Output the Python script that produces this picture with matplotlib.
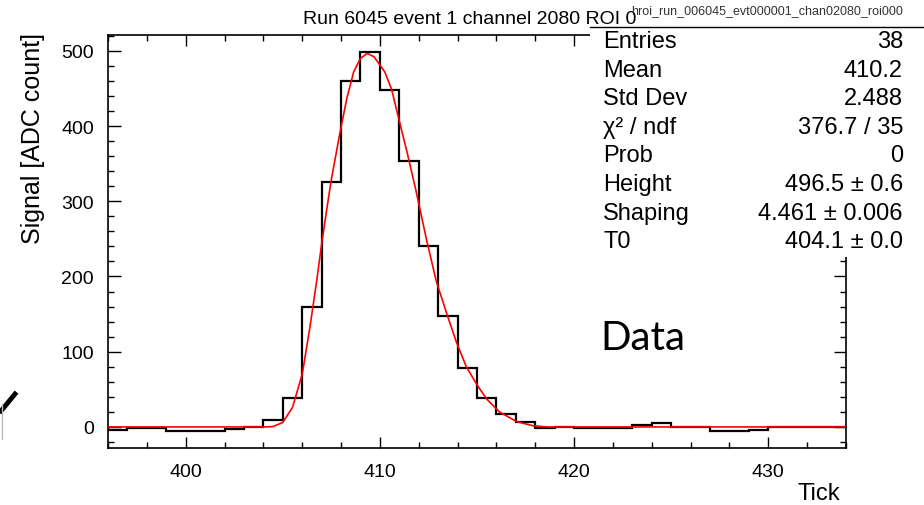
import numpy as np
import matplotlib
matplotlib.use("Agg")
import matplotlib.pyplot as plt
from matplotlib.lines import Line2D
from matplotlib.patches import Rectangle
from matplotlib.ticker import MultipleLocator

plt.rcParams['font.family'] = ['Liberation Sans', 'DejaVu Sans']

# histogram: one value per tick bin, bins 396..433
bin_start = 396
signal = [-4, -1, -1, -5, -5, -5, -3, 0, 9, 38,
          159, 326, 460, 498, 448, 353, 240, 147, 78, 39,
          17, 7, -2, 0, -2, -2, -2, 2, 5, 0,
          0, -6, -6, -4, 0, 0, 0, 0]

# fitted response curve
fit_tick = [396.0, 404.1, 404.5, 405.0, 405.5, 406.0, 406.4, 406.75, 407.0, 407.25,
            407.5, 407.95, 408.3, 408.65, 409.0, 409.35, 409.7, 410.25, 410.6, 410.95,
            411.4, 411.85, 412.4, 412.9, 413.45, 413.95, 414.45, 415.0, 415.5, 416.15,
            417.05, 417.9, 418.6, 434.0]
fit_adc = [0, 0, 0.5, 6, 26, 70, 133, 195, 243, 287,
           329, 392, 437, 472, 490, 496.5, 492, 472, 449, 412,
           365, 315, 249, 194, 150, 112, 80, 56, 37, 20,
           7, 1.5, 0, 0]

stat_names = ["Entries", "Mean", "Std Dev", "χ² / ndf", "Prob", "Height", "Shaping", "T0"]
stat_values = ["38", "410.2", "2.488", "376.7 / 35", "0",
               "496.5 ± 0.6", "4.461 ± 0.006", "404.1 ± 0.0"]

W, H = 924, 506


def fx(x):
    return x / W


def fy(y):
    return 1 - y / H


fig = plt.figure(figsize=(W / 100, H / 100), dpi=100)
ax = fig.add_axes([fx(108), fy(449), (846 - 108) / W, (449 - 36) / H])

edges = np.arange(bin_start, bin_start + len(signal) + 1)
ax.stairs(signal, edges, color='black', lw=1.6, zorder=2)
ax.plot(fit_tick, fit_adc, color='red', lw=1.2, zorder=3)

ax.set_xlim(396, 434)
ax.set_ylim(-28, 521)
ax.xaxis.set_major_locator(MultipleLocator(10))
ax.xaxis.set_minor_locator(MultipleLocator(2))
ax.yaxis.set_major_locator(MultipleLocator(100))
ax.yaxis.set_minor_locator(MultipleLocator(20))
ax.tick_params(which='both', direction='in', top=True, right=True, width=1.0, labelsize=14)
ax.tick_params(axis='x', which='major', length=8, pad=11)
ax.tick_params(axis='x', which='minor', length=4)
ax.tick_params(axis='y', which='major', length=9, pad=10)
ax.tick_params(axis='y', which='minor', length=4.5)
for s in ax.spines.values():
    s.set_linewidth(1.2)

ax.set_ylabel("Signal [ADC count]", fontsize=18, loc='top')
ax.yaxis.set_label_coords(-0.0854, 1.007)
ax.set_xlabel("Tick", fontsize=17, loc='right')
ax.xaxis.set_label_coords(0.992, -0.082)

fig.text(fx(470), fy(19), "Run 6045 event 1 channel 2080 ROI 0", fontsize=14,
         ha='center', va='center')

# stats box
fig.add_artist(Rectangle((fx(590), fy(258)), fx(924 - 590), (258 - 28) / H,
                         facecolor='white', edgecolor='none', zorder=5))
fig.add_artist(Line2D([fx(590), fx(924)], [fy(28), fy(28)], color='black', lw=1.0, zorder=6))
fig.text(fx(903), fy(11), "hroi_run_006045_evt000001_chan02080_roi000", fontsize=9,
         ha='right', va='center', color='#333333', zorder=7)
for i, (name, val) in enumerate(zip(stat_names, stat_values)):
    y = 42 + i * 28.6
    fig.text(fx(603), fy(y), name, fontsize=17, ha='left', va='center', zorder=7)
    fig.text(fx(903), fy(y), val, fontsize=17, ha='right', va='center', zorder=7)

fig.text(fx(600), fy(338), "Data", fontsize=29, family=['Lato', 'DejaVu Sans'],
         ha='left', va='center')

# clipped stroke at the left border
fig.add_artist(Line2D([fx(1), fx(15)], [fy(412), fy(395)], color='black', lw=3.5))
fig.add_artist(Line2D([fx(2), fx(2)], [fy(405), fy(440)], color='#bbbbbb', lw=1.0))

fig.savefig("out.png", dpi=100)
